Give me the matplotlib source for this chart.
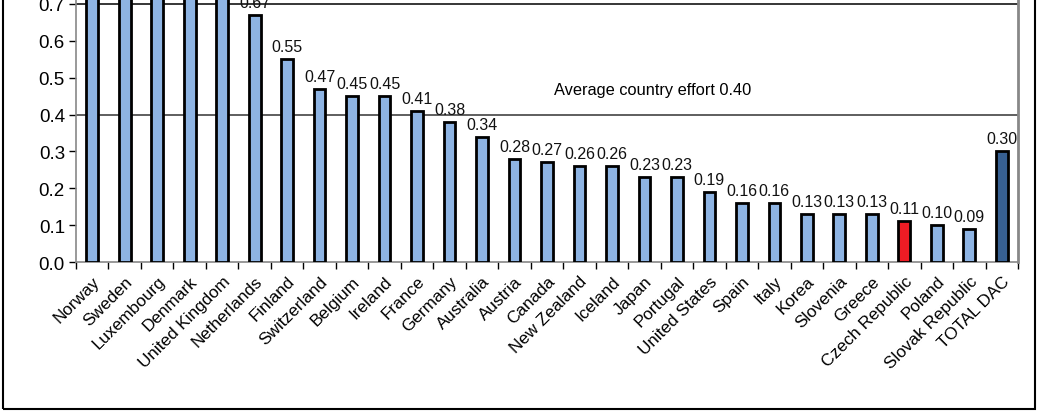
import numpy as np
import matplotlib
matplotlib.use("Agg")
import matplotlib.pyplot as plt
from matplotlib.patches import Rectangle

countries = ["Norway", "Sweden", "Luxembourg", "Denmark", "United Kingdom", "Netherlands",
             "Finland", "Switzerland", "Belgium", "Ireland", "France", "Germany", "Australia",
             "Austria", "Canada", "New Zealand", "Iceland", "Japan", "Portugal", "United States",
             "Spain", "Italy", "Korea", "Slovenia", "Greece", "Czech Republic", "Poland",
             "Slovak Republic", "TOTAL DAC"]
values = [1.07, 1.02, 1.00, 0.85, 0.72, 0.67, 0.55, 0.47, 0.45, 0.45, 0.41, 0.38, 0.34,
          0.28, 0.27, 0.26, 0.26, 0.23, 0.23, 0.19, 0.16, 0.16, 0.13, 0.13, 0.13, 0.11,
          0.10, 0.09, 0.30]
average = 0.40
un_target = 0.70

plt.rcParams['font.family'] = ['Liberation Sans', 'DejaVu Sans']

W, H = 1040, 414
fig = plt.figure(figsize=(W / 100, H / 100), dpi=100)

# axes: x 76..1018 px, y=0 at 263 px from top, 0.1 = 36.86 px
ymax = 1.2
px_per_unit = 368.6
y0 = H - 263
ax = fig.add_axes([76 / W, y0 / H, (1018 - 76) / W, ymax * px_per_unit / H])

x = np.arange(len(countries))
colors = ['#8EB4E3'] * len(countries)
colors[countries.index("Czech Republic")] = '#ED1C24'
colors[-1] = '#376092'
ax.bar(x, values, width=0.36, color=colors, edgecolor='black', linewidth=2, zorder=3)

for xi, v in zip(x, values):
    ax.text(xi, v + 0.014, f"{v:.2f}", ha='center', va='bottom', fontsize=11.5,
            color='#111111', zorder=4)

ax.axhline(un_target, color='black', linewidth=1.1, zorder=2)
ax.axhline(average, color='#333333', linewidth=1.1, zorder=2)
ax.text(17.25, 0.468, f"Average country effort {average:.2f}", ha='center', va='center',
        fontsize=11.8)

ax.set_xlim(-0.5, len(countries) - 0.5)
ax.set_ylim(0, ymax)
ax.set_yticks(np.arange(0, ymax + 0.001, 0.1))
ax.set_yticklabels([f"{t:.1f}" for t in np.arange(0, ymax + 0.001, 0.1)], fontsize=13.5)
ax.set_xticks(x)
ax.set_xticklabels(countries, rotation=45, ha='right', rotation_mode='anchor', fontsize=12.3)
ax.set_xticks(np.arange(-0.5, len(countries)), minor=True)
ax.tick_params(axis='x', which='major', length=0, pad=8)
ax.tick_params(axis='x', which='minor', length=5, width=1, color='black', direction='out')
ax.tick_params(axis='y', length=5, width=1, color='black', direction='out', pad=3)

for side in ['left', 'bottom']:
    ax.spines[side].set_color('#888888')
    ax.spines[side].set_linewidth(1.2)
ax.spines['right'].set_color('#888888')
ax.spines['right'].set_linewidth(2)
ax.spines['top'].set_visible(False)

# outer chart frame (top is cut off in the picture)
fig.patches.append(Rectangle((3 / W, (H - 410) / H), (1035 - 3) / W, 2.0,
                             transform=fig.transFigure, fill=False,
                             edgecolor='black', linewidth=1.5))

fig.savefig("out.png", dpi=100)
